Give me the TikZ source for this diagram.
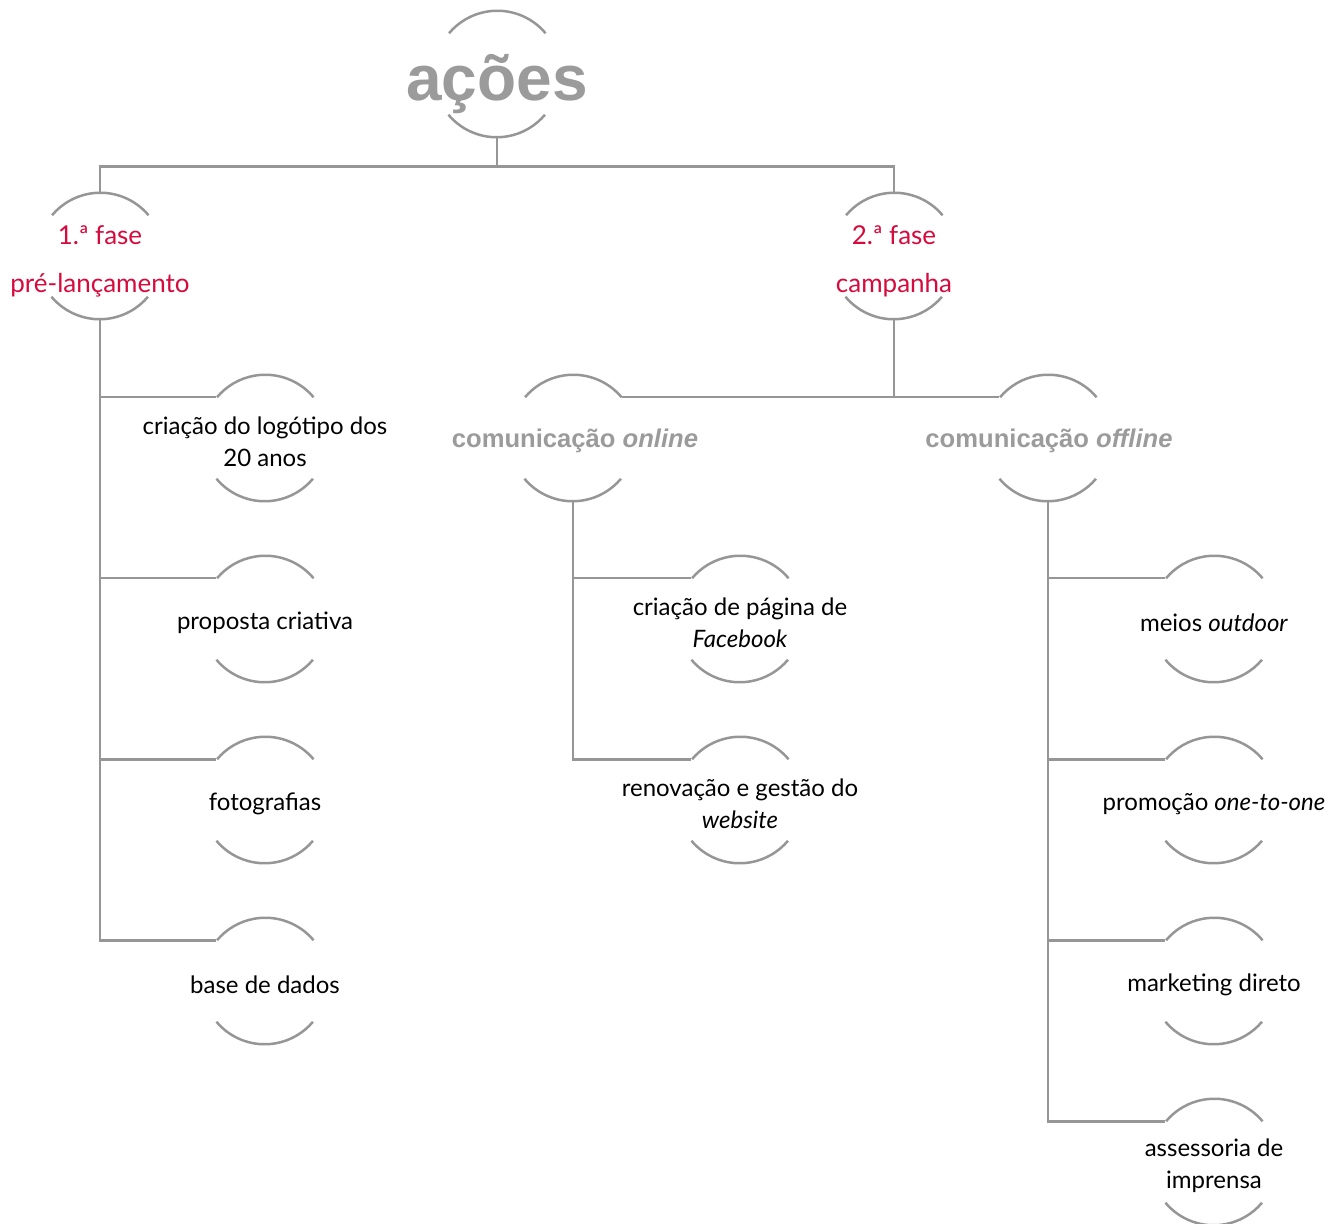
\documentclass[tikz,border=0pt]{standalone}
\usepackage{fontspec}
\setmainfont{Lato}
\newfontfamily\boldsans{Liberation Sans}
\definecolor{lin}{RGB}{150,150,150}
\definecolor{redt}{RGB}{214,10,60}
\definecolor{grayt}{RGB}{155,155,155}
\newcommand{\twoarcs}[1]{%
  \draw[arcline] (#1.40) arc[start angle=40,end angle=140,radius=31.5pt];
  \draw[arcline] (#1.220) arc[start angle=220,end angle=320,radius=31.5pt];}
\begin{document}
\begin{tikzpicture}[x=0.5pt,y=0.5pt,
  circ/.style={circle,minimum size=63pt,inner sep=0pt,draw=none},
  arcline/.style={draw=lin,line width=1.25pt},
  conn/.style={draw=lin,line width=1.25pt},
  lbl/.style={align=center,inner sep=0pt,font={\fontsize{12}{16}\selectfont}},
  phase/.style={align=center,inner sep=0pt,text=redt,font={\fontsize{13}{24}\selectfont}},
  comm/.style={align=center,inner sep=0pt,text=grayt,font={\boldsans\bfseries\fontsize{12.8}{14}\selectfont}}]
\useasboundingbox (0,0) rectangle (1343,-1224);
% circles
\node[circ] (a) at (497,-74) {};
\node[circ] (f1) at (100,-256) {};
\node[circ] (f2) at (894,-256) {};
\node[circ] (l1) at (265,-438) {};
\node[circ] (l2) at (265,-619) {};
\node[circ] (l3) at (265,-800) {};
\node[circ] (l4) at (265,-981) {};
\node[circ] (on) at (573,-438) {};
\node[circ] (off) at (1048,-438) {};
\node[circ] (o1) at (740,-619) {};
\node[circ] (o2) at (740,-800) {};
\node[circ] (m1) at (1214,-619) {};
\node[circ] (m2) at (1214,-800) {};
\node[circ] (m3) at (1214,-981) {};
\node[circ] (m4) at (1214,-1162) {};
\foreach \n in {a,f1,f2,l1,l2,l3,l4,on,off,o1,o2,m1,m2,m3,m4}{\twoarcs{\n}}
% texts
\node[inner sep=0pt,text=grayt,font={\boldsans\bfseries\fontsize{32}{36}\selectfont}] (ta) at (497,-84) {ações};
\node[phase] (tf1) at (100,-261) {1.ª fase\\pré-lançamento};
\node[phase] (tf2) at (894,-261) {2.ª fase\\campanha};
\node[lbl] (tl1) at (265,-442) {criação do logótipo dos\\20 anos};
\node[lbl] (tl2) at (265,-623) {proposta criativa};
\node[lbl] (tl3) at (265,-804) {fotografias};
\node[lbl] (tl4) at (265,-985) {base de dados};
\node[comm] (ton) at (575,-441) {comunicação \textit{online}};
\node[comm] (toff) at (1049,-441) {comunicação \textit{offline}};
\node[lbl] (to1) at (740,-623) {criação de página de\\\textit{Facebook}};
\node[lbl] (to2) at (740,-804) {renovação e gestão do\\\textit{website}};
\node[lbl] (tm1) at (1214,-623) {meios \textit{outdoor}};
\node[lbl] (tm2) at (1214,-804) {promoção \textit{one-to-one}};
\node[lbl] (tm3) at (1214,-985) {marketing direto};
\node[lbl] (tm4) at (1214,-1166) {assessoria de\\imprensa};
% connectors
\draw[conn] (a.south) -- ++(0,-29) coordinate (j0);
\draw[conn] (f1.north) |- (j0) -| (f2.north);
\foreach \n in {l1,l2,l3,l4}{\draw[conn] (f1.south) |- (\n.140);}
\draw[conn] (on.40) -- (off.140);
\draw[conn] (f2.south) -- (f2.south |- on.40);
\foreach \n in {o1,o2}{\draw[conn] (on.south) |- (\n.140);}
\foreach \n in {m1,m2,m3,m4}{\draw[conn] (off.south) |- (\n.140);}
\end{tikzpicture}
\end{document}
